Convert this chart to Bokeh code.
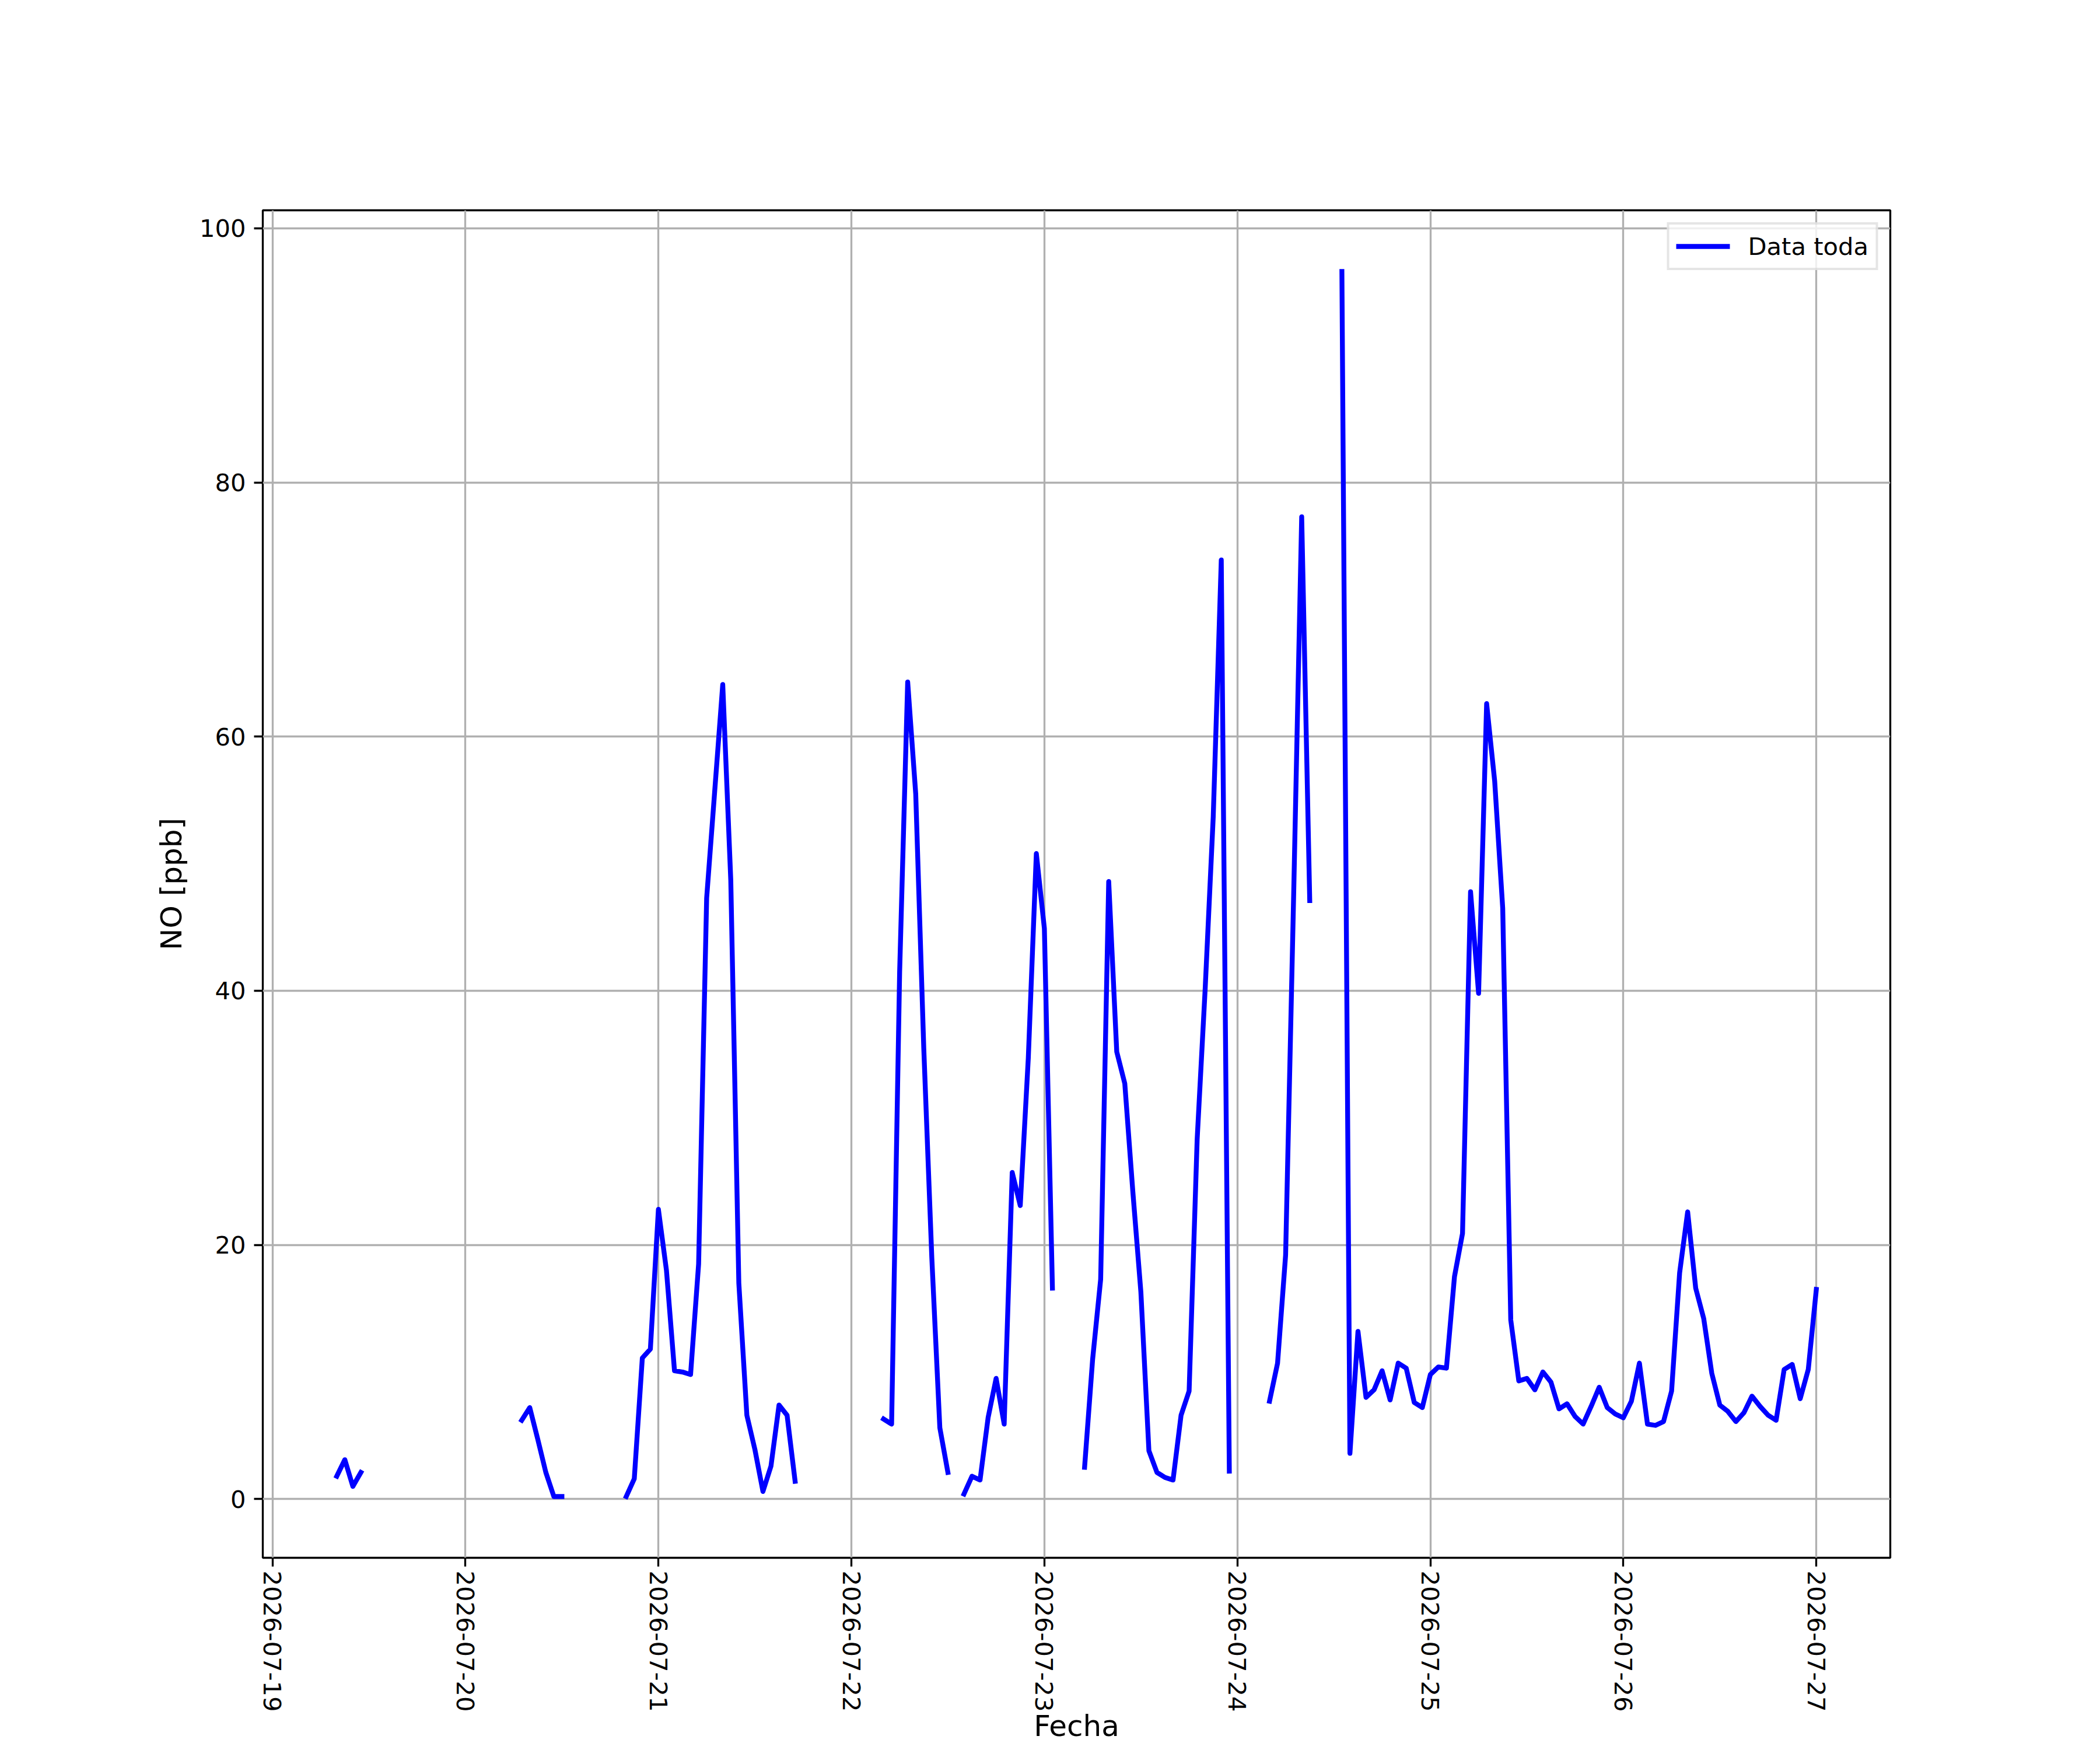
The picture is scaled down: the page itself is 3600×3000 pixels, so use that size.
import numpy as np
import pandas as pd
from bokeh.plotting import figure
from bokeh.models import (Range1d, FixedTicker, DatetimeTickFormatter,
                          Legend, LegendItem, ColumnDataSource)
from bokeh.embed import file_html
from bokeh.resources import INLINE

# ---------------- data ----------------
series_name = "Data toda"
x_label = "Fecha"
y_label = "NO [ppb]"

series_start = "2026-07-19 08:00"
series_end = "2026-07-27 00:00"

seg_starts = ["2026-07-19 08:00", "2026-07-20 07:00", "2026-07-20 20:00",
              "2026-07-22 04:00", "2026-07-22 14:00", "2026-07-23 05:00",
              "2026-07-24 04:00", "2026-07-24 13:00"]

seg1 = [1.8, 3.1, 1.0, 2.1]
seg2 = [6.2, 7.2, 4.7, 2.1, 0.2, 0.2]
seg3 = [0.2, 1.6, 11.1, 11.8, 22.8, 18.0, 10.1, 10.0, 9.8, 18.5, 47.3,
        55.7, 64.1, 48.7, 17.0, 6.6, 3.9, 0.6, 2.6, 7.4, 6.6, 1.4]
seg4 = [6.3, 5.9, 41.5, 64.3, 55.5, 35.5, 19.0, 5.6, 2.1]
seg5 = [0.4, 1.8, 1.5, 6.4, 9.5, 5.9, 25.7, 23.1, 34.7, 50.8, 44.9, 16.6]
seg6 = [2.5, 11.0, 17.3, 48.6, 35.2, 32.7, 24.2, 16.3, 3.8, 2.1, 1.7, 1.5,
        6.6, 8.5, 28.3, 40.2, 53.7, 73.9, 2.2]
seg7 = [7.7, 10.7, 19.2, 47.5, 77.3, 47.1]
seg8 = [96.6, 3.6, 13.2, 8.0, 8.6, 10.1, 7.8, 10.7, 10.3, 7.6, 7.2, 9.8,
        10.4, 10.3, 17.5, 20.9, 47.8, 39.8, 62.6, 56.5, 46.5, 14.1, 9.3, 9.5,
        8.6, 10.0, 9.2, 7.1, 7.5, 6.5, 5.9, 7.3, 8.8, 7.2, 6.7, 6.4, 7.7, 10.7,
        5.9, 5.8, 6.1, 8.5, 17.8, 22.6, 16.6, 14.2, 9.9, 7.4, 6.9, 6.1, 6.8,
        8.1, 7.3, 6.6, 6.2, 10.2, 10.6, 7.9, 10.2, 16.5]
segments = [seg1, seg2, seg3, seg4, seg5, seg6, seg7, seg8]

tick_days = ["2026-07-19", "2026-07-20", "2026-07-21", "2026-07-22", "2026-07-23",
             "2026-07-24", "2026-07-25", "2026-07-26", "2026-07-27"]
y_ticks = [0, 20, 40, 60, 80, 100]

# ---------------- build hourly series with gaps ----------------
idx = pd.date_range(series_start, series_end, freq="h")
vals = pd.Series(np.nan, index=idx)
for st, seg in zip(seg_starts, segments):
    t = pd.date_range(st, periods=len(seg), freq="h")
    vals.loc[t] = seg
src = ColumnDataSource(dict(t=idx.to_numpy(), v=vals.to_numpy()))

# matplotlib-like 5% margins
t0, t1 = idx[0], idx[-1]
pad_t = (t1 - t0) * 0.05
vmin, vmax = np.nanmin(vals.to_numpy()), np.nanmax(vals.to_numpy())
pad_v = (vmax - vmin) * 0.05

W, H = 3592, 2992
FL, FT, FR, FB = 450, 360, 352, 322   # borders around frame

p = figure(width=W, height=H, x_axis_type="datetime", output_backend="svg",
           toolbar_location=None,
           x_range=Range1d(t0 - pad_t, t1 + pad_t),
           y_range=Range1d(vmin - pad_v, vmax + pad_v),
           min_border_left=FL, min_border_top=FT, min_border_right=FR,
           min_border_bottom=FB)
p.background_fill_color = "white"
p.border_fill_color = "white"
p.outline_line_color = "black"
p.outline_line_width = 3.33

tick_ms = [pd.Timestamp(d).value // 10**6 for d in tick_days]
p.xaxis.ticker = FixedTicker(ticks=tick_ms)
p.xaxis.formatter = DatetimeTickFormatter(
    milliseconds="%Y-%m-%d", seconds="%Y-%m-%d", minsec="%Y-%m-%d",
    minutes="%Y-%m-%d", hourmin="%Y-%m-%d", hours="%Y-%m-%d",
    days="%Y-%m-%d", months="%Y-%m-%d", years="%Y-%m-%d")
p.xaxis.major_label_orientation = "vertical"
p.yaxis.ticker = FixedTicker(ticks=y_ticks)
p.xgrid.ticker = FixedTicker(ticks=tick_ms)
p.ygrid.ticker = FixedTicker(ticks=y_ticks)

for ax in (p.xaxis, p.yaxis):
    ax.axis_line_color = None
    ax.major_tick_line_color = "black"
    ax.major_tick_line_width = 3.33
    ax.major_tick_out = 15
    ax.major_tick_in = 0
    ax.minor_tick_line_color = None
    ax.major_label_standoff = 14
    ax.major_label_text_font = "DejaVu Sans"
    ax.major_label_text_font_size = "41.67px"
    ax.major_label_text_color = "black"
    ax.axis_label_text_font = "DejaVu Sans"
    ax.axis_label_text_font_size = "50px"
    ax.axis_label_text_font_style = "normal"
    ax.axis_label_text_color = "black"

p.xaxis.major_label_standoff = 7
p.xaxis.axis_label = x_label
p.xaxis.axis_label_standoff = -8
p.yaxis.axis_label = y_label
p.yaxis.axis_label_standoff = 16

for g in (p.xgrid, p.ygrid):
    g.grid_line_color = "#b0b0b0"
    g.grid_line_width = 3.33

r = p.line(x="t", y="v", source=src, line_color="#0000ff", line_width=8.33,
           line_join="round", line_cap="square")

legend = Legend(items=[LegendItem(label=series_name, renderers=[r])],
                location="top_right")
legend.label_text_font = "DejaVu Sans"
legend.label_text_font_size = "41.67px"
legend.label_text_color = "black"
legend.glyph_width = 92
legend.glyph_height = 50
legend.label_height = 50
legend.label_standoff = 31
legend.padding = 12
legend.margin = 21
legend.spacing = 0
legend.border_line_color = "#cccccc"
legend.border_line_width = 4
legend.background_fill_color = "white"
legend.background_fill_alpha = 0.8
p.add_layout(legend)

open("out.html", "w").write(file_html(p, INLINE))
